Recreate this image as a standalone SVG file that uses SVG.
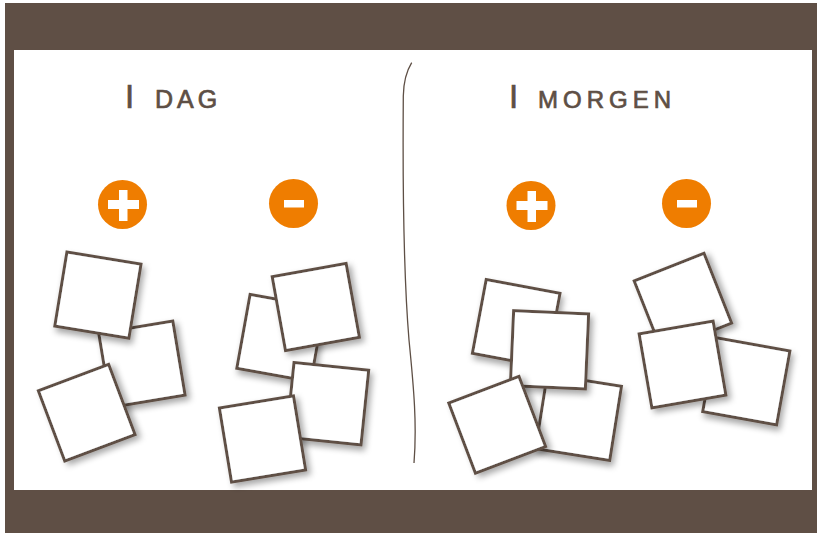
<svg xmlns="http://www.w3.org/2000/svg" width="817" height="533" viewBox="0 0 817 533">
  <style>
    .card { fill: #ffffff; stroke: #5e4f45; stroke-width: 3; filter: url(#shadow); }
    .title { font-family: "Liberation Sans", Arial, sans-serif; fill: #5e4f45; stroke: #5e4f45; stroke-width: 0.7; }
    .badge { fill: #ef7d00; }
    .sign { fill: #ffffff; }
  </style>
  <defs>
    <filter id="shadow" x="-30%" y="-30%" width="160%" height="160%">
      <feDropShadow dx="3" dy="4" stdDeviation="3" flood-color="#000000" flood-opacity="0.35"/>
    </filter>
    <rect id="sq" x="-37.5" y="-37.5" width="75" height="75"/>
  </defs>

  <!-- frame -->
  <g id="frame">
    <rect x="5" y="3" width="812" height="530" fill="#5f4f45"/>
    <rect x="14" y="50" width="798" height="440" fill="#ffffff"/>
  </g>

  <!-- titles -->
  <g id="title-dag">
    <text class="title" x="125" y="108"><tspan font-size="33">I</tspan><tspan x="155" font-size="25" letter-spacing="4">DAG</tspan></text>
  </g>
  <g id="title-morgen">
    <text class="title" x="509" y="108"><tspan font-size="33">I</tspan><tspan x="538" font-size="24" letter-spacing="5">MORGEN</tspan></text>
  </g>

  <!-- badges -->
  <g id="plus-dag">
    <circle class="badge" cx="122.5" cy="204.5" r="24.5"/>
    <rect class="sign" x="108" y="200" width="31" height="9"/>
    <rect class="sign" x="119" y="190" width="8.5" height="31"/>
  </g>
  <g id="minus-dag">
    <circle class="badge" cx="293.5" cy="203.5" r="24.5"/>
    <rect class="sign" x="284" y="200" width="20" height="7.5"/>
  </g>
  <g id="plus-morgen">
    <circle class="badge" cx="531" cy="205.5" r="24.5"/>
    <rect class="sign" x="516.5" y="201" width="31" height="9"/>
    <rect class="sign" x="527.5" y="191" width="8.5" height="31"/>
  </g>
  <g id="minus-morgen">
    <circle class="badge" cx="686.5" cy="203.5" r="24.5"/>
    <rect class="sign" x="677" y="200" width="20" height="7.5"/>
  </g>

  <!-- divider -->
  <g id="connectors">
    <path d="M411.7,62.7 C406,72 403.5,84 403.3,96 C402.5,200 404,280 409,340 C414,390 417,425 414,463" fill="none" stroke="#5e4f45" stroke-width="1.3"/>
  </g>

  <!-- I DAG plus cards -->
  <g id="card-b"><use href="#sq" class="card" transform="translate(141.9,364.2) rotate(-9.4)"/></g>
  <g id="card-a"><use href="#sq" class="card" transform="translate(97.9,295.1) rotate(9.3)"/></g>
  <g id="card-c"><use href="#sq" class="card" transform="translate(86.7,412.7) rotate(-20.6)"/></g>

  <!-- I DAG minus cards -->
  <g id="card-d"><use href="#sq" class="card" transform="translate(280.4,338) rotate(10.2)"/></g>
  <g id="card-e"><use href="#sq" class="card" transform="translate(315.8,307) rotate(-10.2)"/></g>
  <g id="card-f"><use href="#sq" class="card" transform="translate(327.5,403.7) rotate(5.9)"/></g>
  <g id="card-g"><use href="#sq" class="card" transform="translate(262.5,439) rotate(-9.3)"/></g>

  <!-- I MORGEN plus cards -->
  <g id="card-h"><use href="#sq" class="card" transform="translate(516.2,323.3) rotate(10.6)"/></g>
  <g id="card-j"><use href="#sq" class="card" transform="translate(578.5,417.5) rotate(9)"/></g>
  <g id="card-i"><use href="#sq" class="card" transform="translate(549.5,349.8) rotate(2.5)"/></g>
  <g id="card-k"><use href="#sq" class="card" transform="translate(497.2,424.8) rotate(-20.8)"/></g>

  <!-- I MORGEN minus cards -->
  <g id="card-l"><use href="#sq" class="card" transform="translate(682.9,302) rotate(-21.6)"/></g>
  <g id="card-n"><use href="#sq" class="card" transform="translate(746.3,381.3) rotate(10.2)"/></g>
  <g id="card-m"><use href="#sq" class="card" transform="translate(682.5,364.5) rotate(-9.8)"/></g>
</svg>
